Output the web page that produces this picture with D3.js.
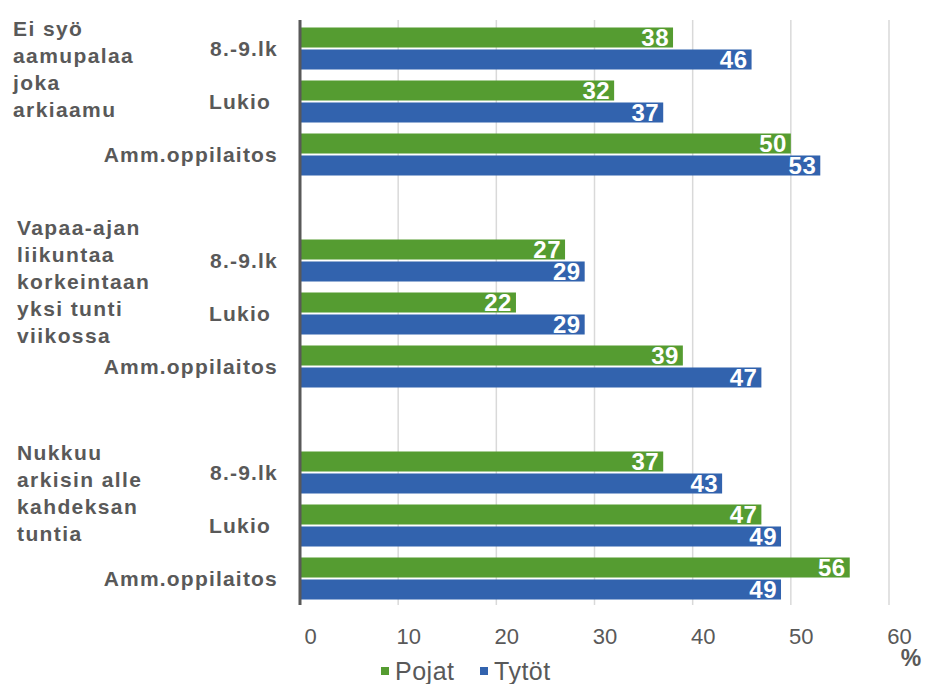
<!DOCTYPE html>
<meta charset="utf-8">
<script src="https://d3js.org/d3.v7.min.js"></script>
<style>
  body { margin: 0; background: #fff; }
  text { font-family: "Liberation Sans", Arial, sans-serif; }
</style>
<div id="my_dataviz"></div>
<script>

// data
var groups = [
  ["Ei syö", "aamupalaa", "joka", "arkiaamu"],
  ["Vapaa-ajan", "liikuntaa", "korkeintaan", "yksi tunti", "viikossa"],
  ["Nukkuu", "arkisin alle", "kahdeksan", "tuntia"]
];
var schools = ["8.-9.lk", "Lukio ", "Amm.oppilaitos"];
var series = ["Pojat", "Tytöt"];
var pojat = [38, 32, 50, 27, 22, 39, 37, 47, 56];
var tytot = [46, 37, 53, 29, 29, 47, 43, 49, 49];
var xTicks = [0, 10, 20, 30, 40, 50, 60];
var colors = ["#559c31", "#3263ae"];

var width = 938, height = 684;

var svg = d3.select("#my_dataviz")
  .append("svg")
    .attr("width", width)
    .attr("height", height);

// rows: 3 schools per group + an empty slot between groups
var rows = [];
groups.forEach(function(g, gi) {
  schools.forEach(function(s, si) {
    rows.push({key: gi + "-" + si, group: gi, school: s, idx: gi * 3 + si});
  });
  if (gi < groups.length - 1) rows.push({key: "gap" + gi, gap: true});
});

var x = d3.scaleLinear().domain([0, 60]).range([300, 889]);
var y = d3.scaleBand()
  .domain(rows.map(function(d) { return d.key; }))
  .range([22, 605]);
var ySub = d3.scaleBand()
  .domain(series)
  .range([0, y.bandwidth()])
  .paddingInner(0.09)
  .paddingOuter(0.25);

// gridlines
svg.append("g")
  .selectAll("line")
  .data(xTicks.slice(1))
  .enter()
  .append("line")
    .attr("x1", function(d) { return x(d); })
    .attr("x2", function(d) { return x(d); })
    .attr("y1", 20)
    .attr("y2", 605)
    .attr("stroke", "#d9d9d9")
    .attr("stroke-width", 1.5);

// x axis labels (no line, labels a bit right of the gridlines like the original)
var xAxis = svg.append("g")
  .attr("transform", "translate(10,636)")
  .call(d3.axisBottom(x).tickValues(xTicks).tickSize(0).tickPadding(0));
xAxis.select(".domain").remove();
xAxis.selectAll("text")
  .attr("dy", "0.35em")
  .attr("fill", "#595959")
  .style("font-size", "22px")
  .style("font-family", "Liberation Sans, Arial, sans-serif");

// bars
var data = rows.filter(function(d) { return !d.gap; });
var rowG = svg.append("g").selectAll("g")
  .data(data)
  .enter()
  .append("g")
    .attr("transform", function(d) { return "translate(0," + y(d.key) + ")"; });

var bar = rowG.selectAll("g")
  .data(function(d) {
    return [
      {s: series[0], v: pojat[d.idx], c: colors[0]},
      {s: series[1], v: tytot[d.idx], c: colors[1]}
    ];
  })
  .enter()
  .append("g");

bar.append("rect")
  .attr("x", x(0))
  .attr("y", function(d) { return ySub(d.s); })
  .attr("width", function(d) { return x(d.v) - x(0); })
  .attr("height", ySub.bandwidth())
  .attr("fill", function(d) { return d.c; });

bar.append("text")
  .attr("x", function(d) { return x(d.v) - 4; })
  .attr("y", function(d) { return ySub(d.s) + ySub.bandwidth() / 2; })
  .attr("dy", "0.37em")
  .attr("text-anchor", "end")
  .attr("fill", "#fff")
  .style("font-size", "24px")
  .style("font-weight", "bold")
  .style("letter-spacing", "0.5px")
  .text(function(d) { return d.v; });

// vertical axis line
svg.append("line")
  .attr("x1", x(0)).attr("x2", x(0))
  .attr("y1", 20).attr("y2", 605)
  .attr("stroke", "#595959")
  .attr("stroke-width", 3);

// school labels
svg.append("g").selectAll("text")
  .data(data)
  .enter()
  .append("text")
    .attr("x", 278)
    .attr("y", function(d) { return y(d.key) + y.bandwidth() / 2; })
    .attr("dy", "0.36em")
    .attr("text-anchor", "end")
    .attr("fill", "#595959")
    .style("font-size", "21px")
    .style("font-weight", "bold")
    .style("letter-spacing", "1.2px")
    .style("white-space", "pre")
    .text(function(d) { return d.school; });

// group labels
var lineH = 27;
groups.forEach(function(lines, gi) {
  var top = y(gi + "-0"), bottom = y(gi + "-2") + y.bandwidth();
  var center = (top + bottom) / 2 - 31;
  var first = center - (lines.length - 1) * lineH / 2 + 6;
  var left = gi === 0 ? 13 : 17;
  svg.append("text")
    .attr("fill", "#595959")
    .style("font-size", "21px")
    .style("font-weight", "bold")
    .style("letter-spacing", "1.4px")
    .selectAll("tspan")
    .data(lines)
    .enter()
    .append("tspan")
      .attr("x", left)
      .attr("y", function(d, i) { return first + i * lineH; })
      .text(function(d) { return d; });
});

// % unit
svg.append("text")
  .attr("x", 911)
  .attr("y", 666)
  .attr("text-anchor", "middle")
  .attr("fill", "#595959")
  .style("font-size", "23px")
  .style("font-weight", "bold")
  .text("%");

// legend
var legendX = [381, 480];
var legend = svg.append("g").selectAll("g")
  .data(series)
  .enter()
  .append("g")
    .attr("transform", function(d, i) { return "translate(" + legendX[i] + ",671)"; });
legend.append("rect")
  .attr("x", 0).attr("y", -4)
  .attr("width", 8).attr("height", 8)
  .attr("fill", function(d, i) { return colors[i]; });
legend.append("text")
  .attr("x", 14)
  .attr("dy", "0.36em")
  .attr("fill", "#595959")
  .style("font-size", "25px")
  .style("letter-spacing", "0.5px")
  .text(function(d) { return d; });

</script>
